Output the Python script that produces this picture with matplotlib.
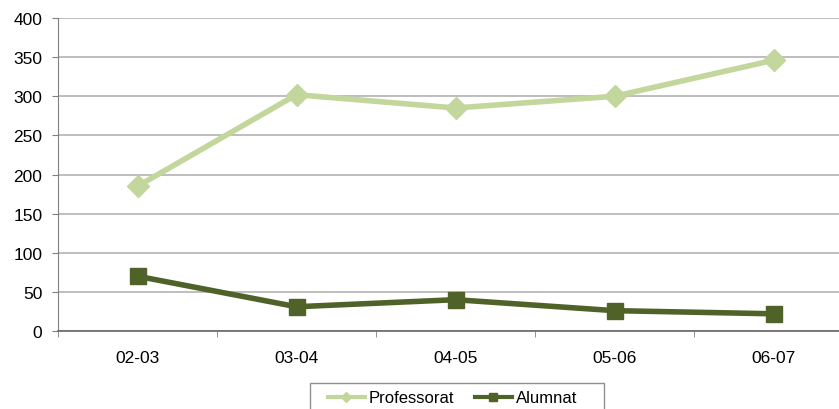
import matplotlib.pyplot as plt
from matplotlib.lines import Line2D
from matplotlib.patches import Rectangle
import numpy as np

plt.rcParams['font.family'] = ['Liberation Sans', 'DejaVu Sans']

# dades
cursos = ['02-03', '03-04', '04-05', '05-06', '06-07']
professorat = [185, 302, 285, 300, 346]
alumnat = [70, 31, 40, 26, 22]

color_prof = '#c3d69b'
color_alum = '#4f6228'

fig = plt.figure(figsize=(8.39, 4.10), dpi=100)
ax = fig.add_axes([58 / 839, 78 / 410, 795 / 839, 313 / 410])

x = np.arange(len(cursos))
ax.plot(x, professorat, color=color_prof, linewidth=4, marker='D',
        markersize=11, label='Professorat', zorder=3)
ax.plot(x, alumnat, color=color_alum, linewidth=4, marker='s',
        markersize=11.5, label='Alumnat', zorder=3)

# eixos
ax.set_xlim(-0.5, len(cursos) - 0.5)
ax.set_ylim(0, 400)
ax.set_yticks(range(0, 401, 50))
ax.set_xticks(x)
ax.set_xticklabels(cursos)
ax.set_xticks(np.arange(-0.5, len(cursos), 1), minor=True)
ax.tick_params(axis='x', which='major', length=0, pad=14, labelsize=12.5)
ax.tick_params(axis='x', which='minor', length=4, color='#808080', direction='out')
ax.tick_params(axis='y', length=4.3, color='#808080', labelsize=12.5, pad=7)

ax.grid(axis='y', color='#acacac', linewidth=1.1)
ax.set_axisbelow(True)
for s in ['top', 'right']:
    ax.spines[s].set_visible(False)
ax.spines['left'].set_color('#808080')
ax.spines['bottom'].set_color('#707070')
ax.spines['bottom'].set_linewidth(1.3)

# llegenda (marc dibuixat a part, retallat per sota com l'original)
handles = [
    Line2D([], [], color=color_prof, linewidth=3, marker='D', markersize=5),
    Line2D([], [], color=color_alum, linewidth=3, marker='s', markersize=6),
]
fig.legend(handles, ['Professorat', 'Alumnat'], loc='center',
           bbox_to_anchor=(452.5 / 839, 1 - 399 / 410), ncol=2,
           frameon=False, fontsize=12,
           handlelength=2.2, handletextpad=0.24, columnspacing=1.25,
           borderpad=0.2)
fig.patches.append(Rectangle((310 / 839, -0.05), 294 / 839, (410 - 384) / 410 + 0.05,
                             transform=fig.transFigure, fill=False,
                             edgecolor='#909090', linewidth=1))

fig.savefig('out.png', dpi=100)
